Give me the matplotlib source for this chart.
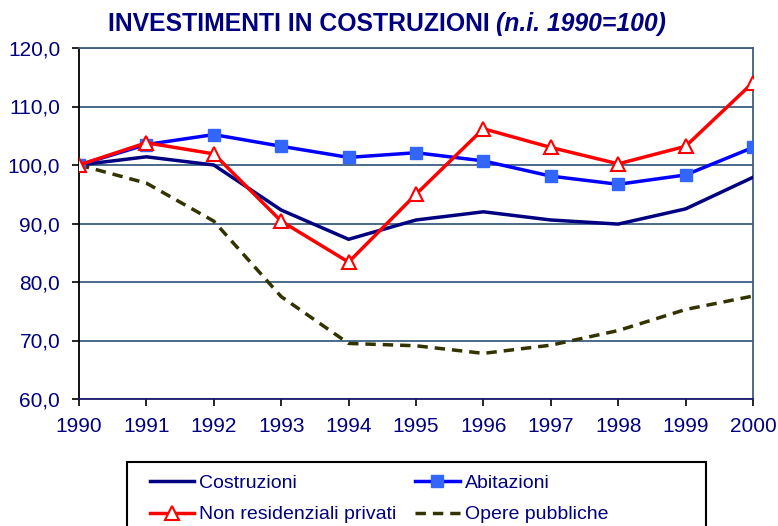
import matplotlib.pyplot as plt
from matplotlib.patches import Rectangle
from matplotlib.ticker import FuncFormatter

years = [1990, 1991, 1992, 1993, 1994, 1995, 1996, 1997, 1998, 1999, 2000]
costruzioni = [100.0, 101.4, 100.0, 92.3, 87.3, 90.6, 92.0, 90.6, 89.9, 92.5, 97.9]
abitazioni = [100.0, 103.5, 105.2, 103.2, 101.3, 102.1, 100.7, 98.1, 96.7, 98.3, 103.0]
non_residenziali = [100.0, 103.8, 101.9, 90.4, 83.4, 95.0, 106.2, 103.0, 100.2, 103.2, 114.1]
opere_pubbliche = [100.0, 96.9, 90.4, 77.5, 69.5, 69.1, 67.8, 69.2, 71.7, 75.3, 77.6]

navy = '#000080'
W, H = 778, 526

plt.rcParams['font.family'] = ['Liberation Sans', 'DejaVu Sans']

fig = plt.figure(figsize=(W / 100, H / 100), dpi=100)
ax = fig.add_axes([79 / W, 1 - 399 / H, (753 - 79) / W, (399 - 48) / H])

l1, = ax.plot(years, costruzioni, color=navy, lw=2.5, label='Costruzioni', zorder=3)
l2, = ax.plot(years, abitazioni, color='#0000ff', lw=2.5, marker='s', ms=9,
              mfc='#3366ff', mec='#3366ff', label='Abitazioni', zorder=4)
l3, = ax.plot(years, non_residenziali, color='#ff0000', lw=2.5, marker='^', ms=10,
              mfc='white', mec='#ff0000', mew=1.5, label='Non residenziali privati', zorder=5)
l4, = ax.plot(years, opere_pubbliche, color='#333300', lw=2.5, ls=(0, (3, 2)),
              label='Opere pubbliche', zorder=3)

ax.set_xlim(1990, 2000)
ax.set_ylim(60, 120)
ax.set_xticks(years)
ax.set_yticks(range(60, 121, 10))
ax.yaxis.set_major_formatter(FuncFormatter(lambda v, p: f'{v:.1f}'.replace('.', ',')))
ax.grid(axis='y', color='#3d5f80', lw=1.3)
ax.set_axisbelow(True)
ax.tick_params(labelsize=15, labelcolor=navy, length=5, width=1.2, direction='out')
ax.tick_params(axis='y', pad=8.5)
ax.tick_params(axis='x', pad=8)
ax.spines['left'].set_color('black')
ax.spines['bottom'].set_color('#1a1a6e')
ax.spines['top'].set_color('#3d5f80')
ax.spines['right'].set_color('#3d5f80')
for s in ax.spines.values():
    s.set_linewidth(1.3)

fig.text(490 / W, 1 - 24 / H, 'INVESTIMENTI IN COSTRUZIONI', ha='right', va='center',
         fontsize=17.8, fontweight='bold', color=navy)
fig.text(496 / W, 1 - 24 / H, '(n.i. 1990=100)', ha='left', va='center',
         fontsize=17.8, fontweight='bold', style='italic', color=navy)

# legend box (clipped at the bottom of the figure)
fig.patches.append(Rectangle((127 / W, 1 - 545 / H), (706 - 127) / W, (545 - 462) / H,
                             transform=fig.transFigure, fill=False, ec='black', lw=1.5))
leg = fig.legend([l1, l3, l2, l4], [l1.get_label(), l3.get_label(), l2.get_label(), l4.get_label()],
                 loc='upper left', bbox_to_anchor=(136 / W, 1 - 461 / H), ncol=2,
                 frameon=False, fontsize=14, handlelength=2.3, handletextpad=0.25,
                 columnspacing=0.95, labelspacing=0.7, borderpad=0.2)
for t in leg.get_texts():
    t.set_color(navy)

fig.savefig('out.png', dpi=100)
